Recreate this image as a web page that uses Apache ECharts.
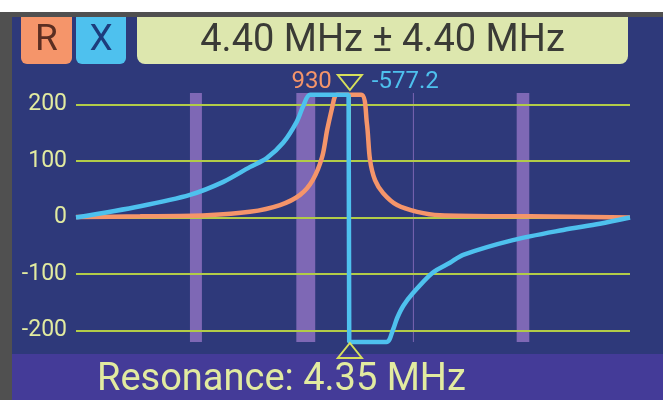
<!DOCTYPE html>
<html>
<head>
<meta charset="utf-8">
<script src="https://cdn.jsdelivr.net/npm/echarts@6/dist/echarts.min.js"></script>
<style>
html, body { margin: 0; padding: 0; background: #fff; }
#chart { width: 663px; height: 400px; }
</style>
</head>
<body>
<div id="chart"></div>
<script>
// sweep 0 .. 8.8 MHz (clipped at +-220)
const freqR = [0, 1.02, 2.08, 2.76, 3.24, 3.56, 3.76, 3.91, 3.99, 4.07, 4.11, 4.15, 4.53, 4.62, 4.67, 4.75, 4.88, 5.10, 5.42, 5.78, 7.21, 8.8]
const resR = [1, 2, 4, 10, 22, 40, 66, 107, 155, 195, 213, 217, 217, 167, 102, 66, 43, 22, 10, 4, 2, 0]

const freqX = [0, 1.02, 1.81, 2.34, 2.76, 3.03, 3.29, 3.51, 3.61, 3.72, 4.30, 4.33, 4.34, 4.93, 5.04, 5.10, 5.20, 5.35, 5.66, 5.94, 6.15, 6.94, 7.74, 8.32, 8.8]
const reactX = [0, 20, 40, 63, 89, 105, 132, 170, 197, 217, 217, 217, -220, -220, -197, -178, -156, -134, -98, -80, -66, -40, -22, -11, 0]

const yTicks = [-200, -100, 0, 100, 200]
const hamBands = [[1.81, 2.0], [3.5, 3.8], [5.3515, 5.3665], [7.0, 7.2]]

const markerFreq = 4.35
const markerR = '930'
const markerX = '-577.2'
const centerLabel = '4.40 MHz \u00b1 4.40 MHz'
const resonanceLabel = 'Resonance: 4.35 MHz'

const FONT = 'Roboto'
const NAVY = '#2e397a'
const ORANGE = '#f5956a'
const BLUE = '#4ec1ee'
const LIME = '#b2cc48'
const PALE = '#e2eba0'

const chart = echarts.init(document.getElementById('chart'))

const zip = (xs, ys) => xs.map((x, i) => [x, ys[i]])

chart.setOption({
  backgroundColor: '#fff',
  animation: false,
  grid: { left: 76, right: 33, top: 93, bottom: 58 },
  xAxis: { type: 'value', min: 0, max: 8.8, show: false },
  yAxis: { type: 'value', min: -220, max: 220, show: false },
  graphic: [
    // frame and screen
    { id: 'frameTop', type: 'rect', z: 0, shape: { x: 0, y: 12, width: 663, height: 5 }, style: { fill: '#505050' } },
    { id: 'frameLeft', type: 'rect', z: 0, shape: { x: 0, y: 12, width: 12, height: 388 }, style: { fill: '#505050' } },
    { id: 'screen', type: 'rect', z: 0, shape: { x: 12, y: 17, width: 651, height: 337 }, style: { fill: NAVY } },
    { id: 'footer', type: 'rect', z: 0, shape: { x: 12, y: 354, width: 651, height: 46 }, style: { fill: '#443b98' } },
    // header buttons
    { id: 'rBox', type: 'rect', z: 20, shape: { x: 21, y: 17, width: 51, height: 47, r: [0, 0, 6, 6] }, style: { fill: ORANGE } },
    { id: 'rTxt', type: 'text', z: 21, style: { x: 46.5, y: 41, text: 'R', fill: '#5a2e22', font: '37px ' + FONT, align: 'center', verticalAlign: 'middle' } },
    { id: 'xBox', type: 'rect', z: 20, shape: { x: 76, y: 17, width: 50, height: 47, r: [0, 0, 6, 6] }, style: { fill: BLUE } },
    { id: 'xTxt', type: 'text', z: 21, style: { x: 101, y: 41, text: 'X', fill: '#1d3c7c', font: '37px ' + FONT, align: 'center', verticalAlign: 'middle' } },
    { id: 'tBox', type: 'rect', z: 20, shape: { x: 137, y: 17, width: 491, height: 47, r: [0, 0, 8, 8] }, style: { fill: '#dde7ae' } },
    { id: 'tTxt', type: 'text', z: 21, style: { x: 382.5, y: 41, text: centerLabel, fill: '#3a3b36', font: '38px ' + FONT, align: 'center', verticalAlign: 'middle' } },
    // footer text
    { id: 'resTxt', type: 'text', z: 21, style: { x: 97, y: 380, text: resonanceLabel, fill: PALE, font: '38px ' + FONT, align: 'left', verticalAlign: 'middle' } }
  ],
  series: [
    {
      name: 'grid',
      type: 'line',
      z: 2,
      data: [[0, 0]],
      showSymbol: false,
      lineStyle: { opacity: 0 },
      silent: true,
      markArea: {
        silent: true,
        z: 1,
        itemStyle: { color: 'rgba(158, 122, 204, 0.72)' },
        data: hamBands.map(b => [{ xAxis: b[0] }, { xAxis: b[1] }])
      },
      markLine: {
        silent: true,
        z: 2,
        symbol: ['none', 'none'],
        lineStyle: { color: LIME, width: 2, type: 'solid' },
        label: {
          show: true,
          position: 'start',
          distance: 9,
          color: PALE,
          fontFamily: FONT,
          fontSize: 23,
          formatter: p => p.value
        },
        data: yTicks.map(v => ({ yAxis: v }))
          .concat([{ xAxis: markerFreq, label: { show: false }, lineStyle: { color: '#d6df5c', width: 2 } }])
      }
    },
    {
      name: 'R',
      type: 'line',
      z: 3,
      data: zip(freqR, resR),
      showSymbol: false,
      clip: false,
      smooth: 0.3,
      lineStyle: { color: ORANGE, width: 4.5 }
    },
    {
      name: 'X',
      type: 'line',
      z: 4,
      data: zip(freqX, reactX),
      showSymbol: false,
      clip: false,
      smooth: 0.3,
      lineStyle: { color: BLUE, width: 4.5 }
    }
  ]
})

// marker triangles and readouts, placed from the axis scale
const [mx, mTop] = chart.convertToPixel({ gridIndex: 0 }, [markerFreq, 220])
const mBot = chart.convertToPixel({ gridIndex: 0 }, [markerFreq, -220])[1]
chart.setOption({
  graphic: [
    { id: 'triTop', type: 'polygon', z: 22, shape: { points: [[mx - 12, mTop - 18], [mx + 12, mTop - 18], [mx, mTop - 3]] }, style: { fill: 'none', stroke: '#d6df5c', lineWidth: 2 } },
    { id: 'triBot', type: 'polygon', z: 22, shape: { points: [[mx, mBot + 1], [mx - 12, mBot + 16], [mx + 12, mBot + 16]] }, style: { fill: 'none', stroke: '#d6df5c', lineWidth: 2 } },
    { id: 'rVal', type: 'text', z: 22, style: { x: mx - 18, y: mTop - 11, text: markerR, fill: ORANGE, font: '24px ' + FONT, align: 'right', verticalAlign: 'middle' } },
    { id: 'xVal', type: 'text', z: 22, style: { x: mx + 22, y: mTop - 11, text: markerX, fill: BLUE, font: '24px ' + FONT, align: 'left', verticalAlign: 'middle' } }
  ]
})
</script>
</body>
</html>
